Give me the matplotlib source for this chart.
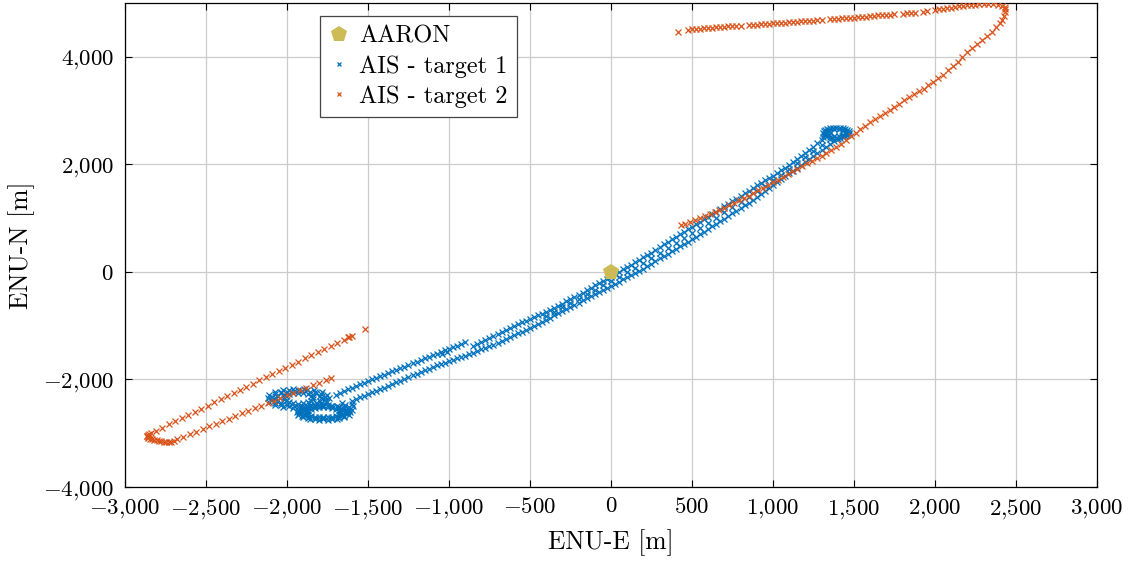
import matplotlib.pyplot as plt
from matplotlib.ticker import FuncFormatter


# --------------------------------
# DATA (metres)
# --------------------------------

aaron_x = [0]
aaron_y = [0]

# target 1 - figure-eight loop south-west (several passes)
t1_loop_x = [
    -1740, -1751, -1784, -1835, -1897, -1963, -2025, -2076, -2109, -2120,
    -2109, -2076, -2025, -1963, -1897, -1835, -1784, -1751,
    -1768, -1787, -1824, -1874, -1930, -1986, -2036, -2073, -2092, -2092,
    -2073, -2036, -1986, -1930, -1874, -1824, -1787, -1768,
    -1790, -1798, -1823, -1860, -1906, -1954, -2000, -2037, -2062, -2070,
    -2062, -2037, -2000, -1954, -1906, -1860, -1823, -1798,
    -1841, -1852, -1872, -1899, -1930, -1961, -1988, -2008, -2019, -2019,
    -2008, -1988, -1961, -1930, -1899, -1872, -1852, -1841,
    -1610, -1620, -1649, -1693, -1746, -1804, -1858, -1901, -1930, -1940,
    -1930, -1901, -1858, -1804, -1746, -1693, -1649, -1620,
    -1627, -1645, -1679, -1724, -1775, -1826, -1871, -1905, -1923, -1923,
    -1905, -1871, -1826, -1775, -1724, -1679, -1645, -1627,
    -1642, -1658, -1688, -1729, -1775, -1821, -1862, -1892, -1908, -1908,
    -1892, -1862, -1821, -1775, -1729, -1688, -1658, -1642,
    -1667, -1681, -1721, -1775, -1829, -1869, -1883, -1869, -1829, -1775,
    -1721, -1681,
    -1671, -1699, -1747, -1803, -1851, -1879, -1879, -1851, -1803, -1747,
    -1699, -1671,
    -1600, -1590, -1600, -1640, -1660, -1615,
]
t1_loop_y = [
    -2350, -2288, -2234, -2194, -2173, -2173, -2194, -2234, -2288, -2350,
    -2412, -2466, -2506, -2527, -2527, -2506, -2466, -2412,
    -2322, -2270, -2227, -2200, -2190, -2200, -2227, -2270, -2322, -2378,
    -2430, -2473, -2500, -2510, -2500, -2473, -2430, -2378,
    -2350, -2302, -2260, -2229, -2212, -2212, -2229, -2260, -2302, -2350,
    -2398, -2440, -2471, -2488, -2488, -2471, -2440, -2398,
    -2333, -2300, -2273, -2256, -2250, -2256, -2273, -2300, -2333, -2367,
    -2400, -2427, -2444, -2450, -2444, -2427, -2400, -2367,
    -2610, -2562, -2520, -2489, -2472, -2472, -2489, -2520, -2562, -2610,
    -2658, -2700, -2731, -2748, -2748, -2731, -2700, -2658,
    -2588, -2546, -2512, -2490, -2482, -2490, -2512, -2546, -2588, -2632,
    -2674, -2708, -2730, -2738, -2730, -2708, -2674, -2632,
    -2590, -2553, -2522, -2502, -2495, -2502, -2522, -2553, -2590, -2630,
    -2668, -2698, -2718, -2725, -2718, -2698, -2668, -2630,
    -2610, -2564, -2529, -2517, -2529, -2564, -2610, -2657, -2691, -2703,
    -2691, -2657,
    -2586, -2544, -2520, -2520, -2544, -2586, -2634, -2676, -2700, -2700,
    -2676, -2634,
    -2560, -2500, -2450, -2470, -2430, -2520,
]

# target 1 - main (lower) strand, loop to north-east
t1_main_x = [
    -1600, -1575, -1550, -1525, -1500, -1475, -1450, -1425, -1400, -1375,
    -1350, -1325, -1300, -1275, -1250, -1225, -1200, -1175, -1150, -1125,
    -1100, -1075, -1050, -1025, -1000, -975, -950, -925, -900, -875,
    -850, -825, -800, -775, -750, -725, -700, -675, -650, -625,
    -600, -575, -550, -525, -500, -475, -450, -425, -400, -375,
    -350, -325, -300, -275, -250, -225, -200, -175, -150, -125,
    -100, -75, -50, -25, 0, 25, 50, 75, 100, 125,
    150, 175, 200, 225, 250, 275, 300, 325, 350, 375,
    400, 425, 450, 475, 500, 525, 550, 575, 600, 625,
    650, 675, 700, 725, 750, 775, 800, 825, 850, 875,
    900, 925, 950, 975, 1000, 1025, 1050, 1075, 1100, 1125,
    1150, 1175, 1200, 1225, 1250, 1275, 1300, 1325, 1350, 1375,
    1400, 1425, 1450,
]
t1_main_y = [
    -2400, -2365, -2330, -2300, -2270, -2240, -2210, -2180, -2150, -2120,
    -2090, -2055, -2020, -1990, -1960, -1925, -1890, -1860, -1830, -1800,
    -1770, -1740, -1710, -1685, -1660, -1635, -1610, -1585, -1560, -1530,
    -1500, -1470, -1440, -1410, -1380, -1350, -1320, -1285, -1250, -1215,
    -1180, -1145, -1110, -1075, -1040, -1005, -970, -930, -890, -850,
    -810, -770, -730, -690, -650, -610, -570, -530, -490, -450,
    -410, -370, -330, -295, -260, -220, -180, -140, -100, -60,
    -20, 20, 60, 105, 150, 200, 250, 295, 340, 385,
    430, 475, 520, 565, 610, 655, 700, 750, 800, 845,
    890, 940, 990, 1040, 1090, 1140, 1190, 1240, 1290, 1345,
    1400, 1450, 1500, 1555, 1610, 1665, 1720, 1775, 1830, 1885,
    1940, 1995, 2050, 2105, 2160, 2215, 2270, 2325, 2380, 2430,
    2480, 2525, 2570,
]

# target 1 - second strand south-west (ends near -900, -1300)
t1_sw_x = [
    -1700, -1675, -1650, -1625, -1600, -1575, -1550, -1525, -1500, -1475,
    -1450, -1425, -1400, -1375, -1350, -1325, -1300, -1275, -1250, -1225,
    -1200, -1175, -1150, -1125, -1100, -1075, -1050, -1025, -1000, -975,
    -950, -925, -900, -1040, -1010,
]
t1_sw_y = [
    -2280, -2250, -2220, -2185, -2150, -2120, -2090, -2060, -2030, -2000,
    -1970, -1940, -1910, -1880, -1850, -1820, -1790, -1760, -1730, -1700,
    -1670, -1640, -1610, -1580, -1550, -1520, -1490, -1460, -1430, -1400,
    -1370, -1340, -1310, -1530, -1490,
]

# target 1 - second strand north-east
t1_ne_x = [
    -850, -825, -800, -775, -750, -725, -700, -675, -650, -625,
    -600, -575, -550, -525, -500, -475, -450, -425, -400, -375,
    -350, -325, -300, -275, -250, -225, -200, -175, -150, -125,
    -100, -75, -50, -25, 0, 25, 50, 75, 100, 125,
    150, 175, 200, 225, 250, 275, 300, 325, 350, 375,
    400, 425, 450, 475, 500, 525, 550, 575, 600, 625,
    650, 675, 700, 725, 750, 775, 800, 825, 850, 875,
    900, 925, 950, 975, 1000, 1025, 1050, 1075, 1100, 1125,
    1150, 1175, 1200, 1225, 1250, 1275, 1300, 1310, 1320, 1330,
    1340,
]
t1_ne_y = [
    -1370, -1335, -1300, -1265, -1225, -1185, -1150, -1110, -1075, -1035,
    -1000, -970, -940, -910, -880, -845, -810, -775, -740, -705,
    -670, -630, -590, -550, -510, -470, -430, -385, -340, -295,
    -250, -210, -170, -130, -90, -45, 0, 45, 90, 135,
    180, 225, 270, 315, 360, 410, 460, 510, 560, 605,
    650, 700, 750, 795, 840, 885, 930, 980, 1030, 1075,
    1120, 1170, 1220, 1265, 1310, 1360, 1410, 1460, 1510, 1560,
    1610, 1655, 1700, 1745, 1790, 1840, 1890, 1940, 1990, 2045,
    2100, 2155, 2210, 2270, 2330, 2390, 2450, 2500, 2550, 2590,
    2620,
]

# target 1 - third pass between the two north-east strands
t1_mid_x = [
    -400, -350, -300, -250, -200, -150, -100, -50, 0, 50,
    100, 150, 200, 250, 300, 350, 400, 450, 500, 550,
    600, 650, 700, 750, 800, 850, 900, 950, 1000, 1050,
    1100, 1150, 1200, 1250, 1300, 1350,
]
t1_mid_y = [
    -815, -740, -660, -580, -500, -415, -330, -250, -175, -90,
    -5, 80, 165, 255, 355, 450, 540, 635, 725, 815,
    915, 1005, 1105, 1200, 1300, 1400, 1505, 1600, 1700, 1805,
    1910, 2020, 2130, 2245, 2360, 2480,
]

# target 1 - turning loop north-east
t1_top_x = [
    1470, 1459, 1430, 1390, 1350, 1321, 1310, 1321, 1350, 1390, 1430, 1459,
    1467, 1447, 1411, 1369, 1333, 1313, 1313, 1333, 1369, 1411, 1447, 1467,
    1448, 1432, 1406, 1374, 1348, 1332, 1332, 1348, 1374, 1406, 1432, 1448,
]
t1_top_y = [
    2590, 2638, 2672, 2685, 2672, 2638, 2590, 2543, 2508, 2495, 2508, 2543,
    2615, 2657, 2682, 2682, 2657, 2615, 2565, 2523, 2498, 2498, 2523, 2565,
    2608, 2640, 2658, 2658, 2640, 2608, 2572, 2540, 2522, 2522, 2540, 2572,
]

# target 2 - south-west leg
t2_sw_x = [
    -1520, -1600, -1615, -1625,
    -1650, -1690, -1730, -1770, -1810, -1850, -1890, -1930, -1970, -2010,
    -2050, -2090, -2130, -2170, -2210, -2250, -2290, -2330, -2370, -2410,
    -2450, -2490, -2530, -2570, -2610, -2650, -2690, -2730, -2770, -2810,
    -2840,
    -2850, -2860, -2862, -2865, -2860, -2855, -2845, -2835, -2820, -2805,
    -2790, -2775, -2760, -2745, -2730, -2715, -2700,
    -2680, -2640, -2600, -2560, -2520, -2480, -2440, -2400, -2360, -2320,
    -2280, -2240, -2200, -2160, -2120, -2080, -2040, -2000, -1960, -1920,
    -1880, -1840, -1800, -1760, -1730,
]
t2_sw_y = [
    -1070, -1190, -1205, -1215,
    -1258, -1317, -1375, -1434, -1492, -1550, -1609, -1667, -1726, -1784,
    -1842, -1901, -1959, -2018, -2076, -2134, -2193, -2251, -2310, -2368,
    -2426, -2485, -2543, -2602, -2660, -2718, -2777, -2835, -2894, -2952,
    -2996,
    -3010, -3030, -3045, -3060, -3075, -3090, -3100, -3115, -3125, -3135,
    -3143, -3150, -3155, -3160, -3162, -3160, -3140,
    -3113, -3065, -3017, -2969, -2921, -2873, -2825, -2777, -2729, -2681,
    -2633, -2585, -2537, -2489, -2441, -2393, -2345, -2297, -2249, -2201,
    -2153, -2105, -2057, -2009, -1973,
]

# target 2 - north-east leg, outbound up to the turn
t2_ne_x = [
    430, 460, 490, 520, 550, 580, 610, 640, 670, 700,
    730, 760, 790, 820, 850, 880, 910, 940, 970, 1000,
    1030, 1060, 1090, 1120, 1150, 1180, 1210, 1240, 1270, 1300,
    1330, 1360, 1390, 1420, 1450, 1480, 1510, 1540, 1570, 1600,
    1630, 1660, 1690, 1720, 1750, 1780, 1810, 1840, 1870, 1900,
    1930, 1960, 1990, 2020, 2050, 2080, 2110, 2140, 2170, 2200,
    2230, 2260, 2290, 2320, 2350, 2380, 2400, 2415, 2425, 2432,
    2435, 2430, 2415, 2390, 2360, 2330,
]
t2_ne_y = [
    870, 900, 935, 970, 1005, 1040, 1080, 1115, 1155, 1195,
    1240, 1285, 1330, 1375, 1420, 1470, 1520, 1565, 1615, 1665,
    1715, 1765, 1820, 1870, 1920, 1970, 2020, 2060, 2110, 2160,
    2210, 2265, 2320, 2380, 2450, 2520, 2590, 2660, 2720, 2780,
    2840, 2900, 2960, 3015, 3070, 3130, 3190, 3250, 3300, 3355,
    3410, 3470, 3530, 3600, 3670, 3750, 3830, 3910, 4000, 4080,
    4160, 4240, 4310, 4390, 4470, 4550, 4620, 4690, 4760, 4830,
    4880, 4920, 4950, 4970, 4980, 4985,
]

# target 2 - return leg westward along the top
t2_top_x = [
    2300, 2275, 2250, 2225, 2200, 2175, 2150, 2125, 2100, 2075,
    2050, 2025, 2000, 1950, 1925, 1875, 1850, 1825, 1800, 1750,
    1725, 1700, 1675, 1650, 1625, 1600, 1575, 1550, 1525, 1500,
    1475, 1450, 1425, 1400, 1375, 1350, 1300, 1275, 1250, 1225,
    1200, 1175, 1150, 1125, 1100, 1075, 1050, 1025, 1000, 975,
    950, 925, 900, 875, 850, 800, 775, 750, 725, 700,
    675, 650, 625, 600, 575, 550, 525, 500, 475, 413,
]
t2_top_y = [
    4980, 4975, 4968, 4962, 4955, 4948, 4938, 4928, 4915, 4903,
    4892, 4882, 4870, 4850, 4840, 4822, 4815, 4808, 4800, 4790,
    4785, 4780, 4775, 4768, 4762, 4755, 4748, 4742, 4736, 4730,
    4725, 4719, 4713, 4707, 4702, 4696, 4685, 4680, 4674, 4668,
    4662, 4657, 4651, 4646, 4640, 4635, 4630, 4625, 4620, 4615,
    4610, 4605, 4600, 4595, 4590, 4580, 4575, 4570, 4565, 4560,
    4554, 4548, 4542, 4536, 4530, 4523, 4517, 4510, 4503, 4470,
]

x_ticks = [-3000, -2500, -2000, -1500, -1000, -500, 0,
           500, 1000, 1500, 2000, 2500, 3000]
y_ticks = [-4000, -2000, 0, 2000, 4000]


# --------------------------------
# STYLE
# --------------------------------

plt.rcParams["font.family"] = "serif"
plt.rcParams["font.serif"] = ["cmr10", "DejaVu Serif"]
plt.rcParams["mathtext.fontset"] = "cm"
plt.rcParams["axes.unicode_minus"] = False

blue = "#0072bd"
orange = "#d95319"
gold = "#cdbb55"


def tex_number(v, pos):
    s = f"{abs(v):,.0f}".replace(",", "{,}")
    if v < 0:
        s = "-" + s
    return f"${s}$"


# --------------------------------
# PLOT
# --------------------------------

fig = plt.figure(figsize=(11.34, 5.70), dpi=100)
ax = fig.add_axes([0.1102, 0.1456, 0.8571, 0.8491])

t1_x = t1_loop_x + t1_main_x + t1_sw_x + t1_ne_x + t1_mid_x + t1_top_x
t1_y = t1_loop_y + t1_main_y + t1_sw_y + t1_ne_y + t1_mid_y + t1_top_y
t2_x = t2_sw_x + t2_ne_x + t2_top_x
t2_y = t2_sw_y + t2_ne_y + t2_top_y

h1, = ax.plot(t1_x, t1_y, linestyle="none", marker="x",
              markersize=4.2, markeredgewidth=0.9, color=blue,
              label="AIS - target 1", zorder=3)
h2, = ax.plot(t2_x, t2_y, linestyle="none", marker="x",
              markersize=4.2, markeredgewidth=0.9, color=orange,
              label="AIS - target 2", zorder=4)
h0, = ax.plot(aaron_x, aaron_y, linestyle="none", marker="p",
              markersize=12, color=gold, markeredgewidth=0,
              label="AARON", zorder=5)

ax.set_xlim(-3000, 3000)
ax.set_ylim(-4000, 5000)
ax.set_xticks(x_ticks)
ax.set_yticks(y_ticks)
ax.xaxis.set_major_formatter(FuncFormatter(tex_number))
ax.yaxis.set_major_formatter(FuncFormatter(tex_number))

ax.grid(True, color="#cccccc", linewidth=0.9)
ax.set_axisbelow(True)
ax.tick_params(direction="in", length=5, width=0.8,
               top=True, right=True, labelsize=16.5)
ax.tick_params(axis="x", pad=7)
ax.tick_params(axis="y", pad=8)
for s in ax.spines.values():
    s.set_linewidth(0.9)

ax.set_xlabel("ENU-E [m]", fontsize=18.5, labelpad=6)
ax.set_ylabel("ENU-N [m]", fontsize=18.5, labelpad=6)

leg = ax.legend(handles=[h0, h1, h2], loc="upper left",
                bbox_to_anchor=(0.2006, 0.973), fontsize=17.5,
                handlelength=0.8, handletextpad=0.4, numpoints=1,
                fancybox=False, framealpha=1, edgecolor="#444444",
                borderpad=0.4, labelspacing=0.3, borderaxespad=0)
leg.get_frame().set_linewidth(0.9)
for h in leg.legend_handles[1:]:
    h.set_markersize(3.5)

fig.savefig("out.png", dpi=100)
